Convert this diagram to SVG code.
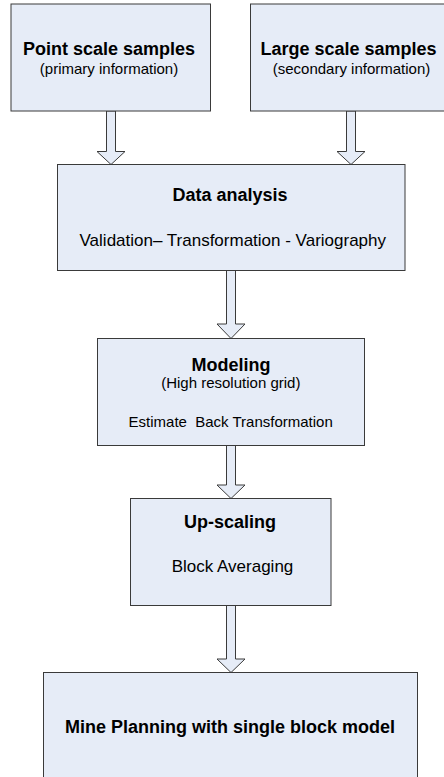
<svg xmlns="http://www.w3.org/2000/svg" width="444" height="777" viewBox="0 0 444 777">
<style>
.box{fill:#E6ECF7;stroke:#3a3a3a;stroke-width:1}
.arr{fill:#E6ECF7;stroke:#3a3a3a;stroke-width:1;stroke-linejoin:miter}
text{font-family:"Liberation Sans",Arial,sans-serif;fill:#000;text-anchor:middle}
.t{font-size:18px;font-weight:bold}
.s{font-size:15px}
.m{font-size:17px}
</style>
<rect width="444" height="777" fill="#fff"/>
<g id="connectors">
<polygon class="arr" points="106.5,111 115.5,111 115.5,151.5 125,151.5 111,164.5 97,151.5 106.5,151.5"/>
<polygon class="arr" points="346.5,111 355.5,111 355.5,151.5 365,151.5 351,164.5 337,151.5 346.5,151.5"/>
<polygon class="arr" points="226.5,270.5 235.5,270.5 235.5,324 245,324 231,338.5 217,324 226.5,324"/>
<polygon class="arr" points="226.5,445.5 235.5,445.5 235.5,485 245,485 231,498.5 217,485 226.5,485"/>
<polygon class="arr" points="226.5,605.5 235.5,605.5 235.5,659 245,659 231,672.5 217,659 226.5,659"/>
</g>
<g id="point-scale">
<rect class="box" x="11" y="4" width="199.5" height="107"/>
<text class="t" x="109" y="55">Point scale samples</text>
<text class="s" x="109" y="73.5">(primary information)</text>
</g>
<g id="large-scale">
<rect class="box" x="250.5" y="4" width="196" height="107"/>
<text class="t" x="348.5" y="55">Large scale samples</text>
<text class="s" x="351.5" y="73.5">(secondary information)</text>
</g>
<g id="data-analysis">
<rect class="box" x="57.5" y="164.5" width="347.5" height="106"/>
<text class="t" x="230" y="200.5">Data analysis</text>
<text class="m" x="232.8" y="245.7">Validation– Transformation - Variography</text>
</g>
<g id="modeling">
<rect class="box" x="97.5" y="338.5" width="267" height="107"/>
<text class="t" x="231" y="370.7">Modeling</text>
<text class="s" x="230.8" y="387.7">(High resolution grid)</text>
<text class="s" x="230.7" y="427.3" xml:space="preserve">Estimate  Back Transformation</text>
</g>
<g id="up-scaling">
<rect class="box" x="130.5" y="498.5" width="200.5" height="107"/>
<text class="t" x="230" y="528.3">Up-scaling</text>
<text class="m" x="232.5" y="571.7">Block Averaging</text>
</g>
<g id="mine-planning">
<rect class="box" x="43.5" y="672.5" width="374" height="120"/>
<text class="t" x="230" y="733.3">Mine Planning with single block model</text>
</g>
</svg>
